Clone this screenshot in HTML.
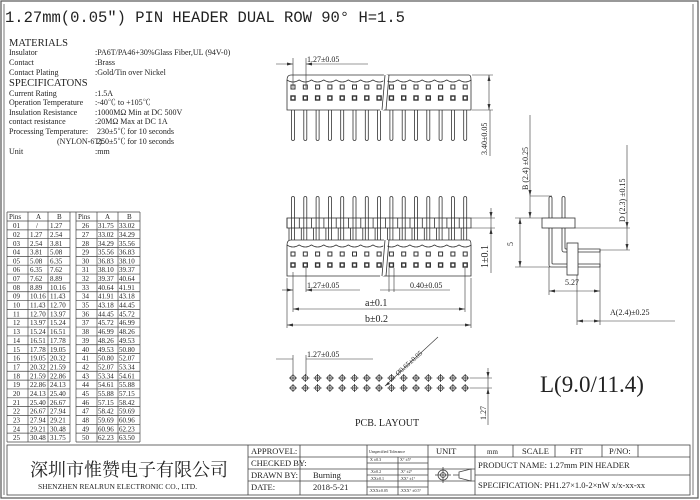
<!DOCTYPE html>
<html><head><meta charset="utf-8"><style>
html,body{margin:0;padding:0;background:#fff}
svg{display:block}
text{font-family:"Liberation Serif","Noto Serif CJK SC",serif;fill:#222}
.s{font-size:8px}
.tb{font-size:7px}
</style></head><body>
<svg id="g" width="700" height="500" viewBox="0 0 700 500" xmlns="http://www.w3.org/2000/svg" stroke="#333" fill="none" stroke-width="0.8">
<rect x="1" y="1" width="697" height="497" stroke="#555" stroke-width="1.2"/>
<line x1="4" y1="4" x2="4" y2="495" stroke="#555"/>
<line x1="693" y1="4" x2="693" y2="495" stroke="#555"/>

<g stroke="none">
<text x="5" y="22" style="font-size:15.5px;font-family:'Liberation Mono',monospace">1.27mm(0.05″) PIN HEADER DUAL ROW 90°  H=1.5</text>
<text x="9" y="46" style="font-size:10.5px">MATERIALS</text>
<text x="9" y="55" class="s">Insulator</text><text x="95" y="55" class="s">:PA6T/PA46+30%Glass Fiber,UL (94V-0)</text>
<text x="9" y="65" class="s">Contact</text><text x="95" y="65" class="s">:Brass</text>
<text x="9" y="75" class="s">Contact Plating</text><text x="95" y="75" class="s">:Gold/Tin over Nickel</text>
<text x="9" y="86" style="font-size:10.5px">SPECIFICATONS</text>
<text x="9" y="96" class="s">Current Rating</text><text x="95" y="96" class="s">:1.5A</text>
<text x="9" y="105" class="s">Operation Temperature</text><text x="95" y="105" class="s">:-40℃ to +105℃</text>
<text x="9" y="115" class="s">Insulation Resistance</text><text x="95" y="115" class="s">:1000MΩ Min at DC 500V</text>
<text x="9" y="124" class="s">contact resistance</text><text x="95" y="124" class="s">:20MΩ Max at DC 1A</text>
<text x="9" y="134" class="s">Processing Temperature:</text><text x="97" y="134" class="s">230±5℃ for 10 seconds</text>
<text x="57" y="144" class="s">(NYLON-6T):</text><text x="97" y="144" class="s">250±5℃ for 10 seconds</text>
<text x="9" y="154" class="s">Unit</text><text x="95" y="154" class="s">:mm</text>
</g>

<g id="ptab" stroke="#444" stroke-width="0.7"></g>
<g stroke="none" class="tb">
<text x="9" y="219">Pins</text><text x="36" y="219">A</text><text x="57" y="219">B</text>
<text x="78" y="219">Pins</text><text x="105" y="219">A</text><text x="127" y="219">B</text>
<text y="228"><tspan x="13">01</tspan><tspan x="36">/</tspan><tspan x="50">1.27</tspan><tspan x="82">26</tspan><tspan x="98">31.75</tspan><tspan x="119">33.02</tspan></text>
<text y="237"><tspan x="13">02</tspan><tspan x="30">1.27</tspan><tspan x="50">2.54</tspan><tspan x="82">27</tspan><tspan x="98">33.02</tspan><tspan x="119">34.29</tspan></text>
<text y="246"><tspan x="13">03</tspan><tspan x="30">2.54</tspan><tspan x="50">3.81</tspan><tspan x="82">28</tspan><tspan x="98">34.29</tspan><tspan x="119">35.56</tspan></text>
<text y="254.5"><tspan x="13">04</tspan><tspan x="30">3.81</tspan><tspan x="50">5.08</tspan><tspan x="82">29</tspan><tspan x="98">35.56</tspan><tspan x="119">36.83</tspan></text>
<text y="263.4"><tspan x="13">05</tspan><tspan x="30">5.08</tspan><tspan x="50">6.35</tspan><tspan x="82">30</tspan><tspan x="98">36.83</tspan><tspan x="119">38.10</tspan></text>
<text y="272.2"><tspan x="13">06</tspan><tspan x="30">6.35</tspan><tspan x="50">7.62</tspan><tspan x="82">31</tspan><tspan x="98">38.10</tspan><tspan x="119">39.37</tspan></text>
<text y="281"><tspan x="13">07</tspan><tspan x="30">7.62</tspan><tspan x="50">8.89</tspan><tspan x="82">32</tspan><tspan x="98">39.37</tspan><tspan x="119">40.64</tspan></text>
<text y="289.9"><tspan x="13">08</tspan><tspan x="30">8.89</tspan><tspan x="50">10.16</tspan><tspan x="82">33</tspan><tspan x="98">40.64</tspan><tspan x="119">41.91</tspan></text>
<text y="298.7"><tspan x="13">09</tspan><tspan x="30">10.16</tspan><tspan x="50">11.43</tspan><tspan x="82">34</tspan><tspan x="98">41.91</tspan><tspan x="119">43.18</tspan></text>
<text y="307.6"><tspan x="13">10</tspan><tspan x="30">11.43</tspan><tspan x="50">12.70</tspan><tspan x="82">35</tspan><tspan x="98">43.18</tspan><tspan x="119">44.45</tspan></text>
<text y="316.4"><tspan x="13">11</tspan><tspan x="30">12.70</tspan><tspan x="50">13.97</tspan><tspan x="82">36</tspan><tspan x="98">44.45</tspan><tspan x="119">45.72</tspan></text>
<text y="325.2"><tspan x="13">12</tspan><tspan x="30">13.97</tspan><tspan x="50">15.24</tspan><tspan x="82">37</tspan><tspan x="98">45.72</tspan><tspan x="119">46.99</tspan></text>
<text y="334.1"><tspan x="13">13</tspan><tspan x="30">15.24</tspan><tspan x="50">16.51</tspan><tspan x="82">38</tspan><tspan x="98">46.99</tspan><tspan x="119">48.26</tspan></text>
<text y="342.9"><tspan x="13">14</tspan><tspan x="30">16.51</tspan><tspan x="50">17.78</tspan><tspan x="82">39</tspan><tspan x="98">48.26</tspan><tspan x="119">49.53</tspan></text>
<text y="351.8"><tspan x="13">15</tspan><tspan x="30">17.78</tspan><tspan x="50">19.05</tspan><tspan x="82">40</tspan><tspan x="98">49.53</tspan><tspan x="119">50.80</tspan></text>
<text y="360.6"><tspan x="13">16</tspan><tspan x="30">19.05</tspan><tspan x="50">20.32</tspan><tspan x="82">41</tspan><tspan x="98">50.80</tspan><tspan x="119">52.07</tspan></text>
<text y="369.4"><tspan x="13">17</tspan><tspan x="30">20.32</tspan><tspan x="50">21.59</tspan><tspan x="82">42</tspan><tspan x="98">52.07</tspan><tspan x="119">53.34</tspan></text>
<text y="378.3"><tspan x="13">18</tspan><tspan x="30">21.59</tspan><tspan x="50">22.86</tspan><tspan x="82">43</tspan><tspan x="98">53.34</tspan><tspan x="119">54.61</tspan></text>
<text y="387.1"><tspan x="13">19</tspan><tspan x="30">22.86</tspan><tspan x="50">24.13</tspan><tspan x="82">44</tspan><tspan x="98">54.61</tspan><tspan x="119">55.88</tspan></text>
<text y="396"><tspan x="13">20</tspan><tspan x="30">24.13</tspan><tspan x="50">25.40</tspan><tspan x="82">45</tspan><tspan x="98">55.88</tspan><tspan x="119">57.15</tspan></text>
<text y="404.8"><tspan x="13">21</tspan><tspan x="30">25.40</tspan><tspan x="50">26.67</tspan><tspan x="82">46</tspan><tspan x="98">57.15</tspan><tspan x="119">58.42</tspan></text>
<text y="413.6"><tspan x="13">22</tspan><tspan x="30">26.67</tspan><tspan x="50">27.94</tspan><tspan x="82">47</tspan><tspan x="98">58.42</tspan><tspan x="119">59.69</tspan></text>
<text y="422.5"><tspan x="13">23</tspan><tspan x="30">27.94</tspan><tspan x="50">29.21</tspan><tspan x="82">48</tspan><tspan x="98">59.69</tspan><tspan x="119">60.96</tspan></text>
<text y="431.3"><tspan x="13">24</tspan><tspan x="30">29.21</tspan><tspan x="50">30.48</tspan><tspan x="82">49</tspan><tspan x="98">60.96</tspan><tspan x="119">62.23</tspan></text>
<text y="440.1"><tspan x="13">25</tspan><tspan x="30">30.48</tspan><tspan x="50">31.75</tspan><tspan x="82">50</tspan><tspan x="98">62.23</tspan><tspan x="119">63.50</tspan></text>
</g>

<g id="top"></g>
<g id="front"></g>
<g id="pcb"></g>

<g stroke="#333" stroke-width="0.6">
<line x1="276" y1="64" x2="293" y2="64"/><line x1="306" y1="64" x2="368" y2="64"/>
<line x1="293" y1="58" x2="293" y2="88"/><line x1="306" y1="58" x2="306" y2="88"/>
<line x1="472" y1="75" x2="493" y2="75"/><line x1="472" y1="110" x2="493" y2="110"/>
<line x1="489" y1="75" x2="489" y2="110"/>
<line x1="490" y1="110" x2="490" y2="156"/>
<line x1="282" y1="290" x2="293" y2="290"/><line x1="306" y1="290" x2="360" y2="290"/>
<line x1="293" y1="272" x2="293" y2="312"/><line x1="306" y1="268" x2="306" y2="292"/>
<line x1="389" y1="268" x2="389" y2="292"/><line x1="394" y1="268" x2="394" y2="292"/>
<line x1="380" y1="290" x2="450" y2="290"/>
<line x1="465" y1="268" x2="465" y2="312"/>
<line x1="293" y1="309" x2="465" y2="309"/>
<line x1="287" y1="278" x2="287" y2="328"/><line x1="471" y1="278" x2="471" y2="328"/>
<line x1="287" y1="325" x2="471" y2="325"/>
<line x1="471" y1="218" x2="495" y2="218"/><line x1="471" y1="228" x2="495" y2="228"/>
<line x1="491" y1="208" x2="491" y2="273"/>
<line x1="530" y1="115" x2="530" y2="218"/><line x1="530" y1="196" x2="552" y2="196"/>
<line x1="515" y1="218" x2="542" y2="218"/><line x1="515" y1="267" x2="550" y2="267"/>
<line x1="520" y1="218" x2="520" y2="267"/>
<line x1="575" y1="228" x2="630" y2="228"/><line x1="600" y1="250" x2="630" y2="250"/>
<line x1="627" y1="145" x2="627" y2="250"/>
<line x1="549" y1="267" x2="549" y2="295"/><line x1="600" y1="250" x2="600" y2="325"/>
<line x1="549" y1="291" x2="600" y2="291"/>
<line x1="577" y1="275" x2="577" y2="325"/>
<line x1="577" y1="321" x2="675" y2="321"/>
<line x1="276" y1="359" x2="293" y2="359"/><line x1="306" y1="359" x2="373" y2="359"/>
<line x1="293" y1="355" x2="293" y2="375"/><line x1="306" y1="355" x2="306" y2="375"/>
<line x1="385" y1="386" x2="438" y2="337"/>
<line x1="470" y1="378" x2="492" y2="378"/><line x1="470" y1="388" x2="492" y2="388"/>
<line x1="488" y1="368" x2="488" y2="425"/>
</g>
<g fill="#333" stroke="none">
<path d="M293 64l-6 -1.5v3z"/><path d="M306 64l6 -1.5v3z"/>
<path d="M489 75l-1.5 6h3z"/><path d="M489 110l-1.5 -6h3z"/>
<path d="M293 290l-6 -1.5v3z"/><path d="M306 290l6 -1.5v3z"/>
<path d="M293 309l6 -1.5v3z"/><path d="M465 309l-6 -1.5v3z"/>
<path d="M287 325l6 -1.5v3z"/><path d="M471 325l-6 -1.5v3z"/>
<path d="M491 218l-1.5 -6h3z"/><path d="M491 228l-1.5 6h3z"/>
<path d="M530 196l-1.5 -6h3z"/><path d="M530 218l-1.5 -6h3z"/>
<path d="M520 218l-1.5 6h3z"/><path d="M520 267l-1.5 -6h3z"/>
<path d="M627 228l-1.5 -6h3z"/><path d="M627 250l-1.5 -6h3z"/>
<path d="M549 291l6 -1.5v3z"/><path d="M600 291l-6 -1.5v3z"/>
<path d="M577 321l6 -1.5v3z"/><path d="M600 321l-6 -1.5v3z"/>
<path d="M385 386l5 -2l-2 -2z"/>
<path d="M488 378l-1.5 -6h3z"/><path d="M488 388l-1.5 6h3z"/>
</g>

<g stroke="none" style="font-size:8px">
<text x="307" y="62">1.27±0.05</text>
<text x="307" y="288">1.27±0.05</text>
<text x="410" y="288">0.40±0.05</text>
<text x="365" y="306" style="font-size:10px">a±0.1</text>
<text x="365" y="322" style="font-size:10px">b±0.2</text>
<text x="307" y="357">1.27±0.05</text>
<text transform="translate(487,155) rotate(-90)">3.40±0.05</text>
<text transform="translate(488,268) rotate(-90)" style="font-size:10px">1±0.1</text>
<text transform="translate(528,190) rotate(-90)">B (2.4) ±0.25</text>
<text transform="translate(625,222) rotate(-90)">D (2.3) ±0.15</text>
<text transform="translate(513,246) rotate(-90)">5</text>
<text x="565" y="285">5.27</text>
<text x="610" y="315">A(2.4)±0.25</text>
<text transform="translate(398,376) rotate(-42)" style="font-size:7px">Ø0.65±0.05</text>
<text transform="translate(486,420) rotate(-90)">1.27</text>
<text x="355" y="426" style="font-size:10px">PCB. LAYOUT</text>
<text x="540" y="392" style="font-size:23px">L(9.0/11.4)</text>
</g>

<g stroke="#333" stroke-width="0.8">
<rect x="542" y="218" width="33" height="10"/>
<path d="M549 218V198a1.5 1.5 0 0 1 3 0V218"/>
<path d="M562 218V198a1.5 1.5 0 0 1 3 0V218"/>
<path d="M549 228V265a2 2 0 0 0 2 2H600v-3H553a1 1 0 0 1 -1 -1V228"/>
<path d="M562 228V250a2 2 0 0 0 2 2H600v-3H566a1 1 0 0 1 -1 -1V228"/>
<rect x="567" y="243" width="11" height="32" fill="#fff"/>
</g>

<g stroke="#444" stroke-width="0.8">
<rect x="7" y="445" width="683" height="50"/>
<line x1="248" y1="445" x2="248" y2="495"/>
<line x1="300" y1="445" x2="300" y2="495"/>
<line x1="367" y1="445" x2="367" y2="495"/>
<line x1="398" y1="457" x2="398" y2="495"/>
<line x1="428" y1="445" x2="428" y2="495"/>
<line x1="475" y1="445" x2="475" y2="495"/>
<line x1="513" y1="445" x2="513" y2="457"/>
<line x1="555" y1="445" x2="555" y2="457"/>
<line x1="602" y1="445" x2="602" y2="457"/>
<line x1="638" y1="445" x2="638" y2="457"/>
<line x1="248" y1="457" x2="690" y2="457"/>
<line x1="248" y1="469" x2="475" y2="469"/>
<line x1="475" y1="475" x2="690" y2="475"/>
<line x1="248" y1="481" x2="475" y2="481"/>
<line x1="367" y1="463" x2="428" y2="463"/><line x1="367" y1="475" x2="428" y2="475"/><line x1="367" y1="487" x2="428" y2="487"/>
<circle cx="443" cy="475" r="5"/><circle cx="443" cy="475" r="2.5"/>
<line x1="435" y1="475" x2="451" y2="475"/><line x1="443" y1="467" x2="443" y2="483"/>
<path d="M453 475h6M459 472l12 -3v12l-12 -3z"/>
</g>
<g stroke="none">
<text x="30" y="476" style="font-size:18px;font-family:'Noto Serif CJK SC',serif">深圳市惟赞电子有限公司</text>
<text x="38" y="489" style="font-size:7.5px">SHENZHEN REALRUN ELECTRONIC CO., LTD.</text>
<g style="font-size:8.5px">
<text x="251" y="454">APPROVEL:</text>
<text x="251" y="466">CHECKED BY:</text>
<text x="251" y="478">DRAWN BY:</text>
<text x="251" y="490">DATE:</text>
<text x="313" y="478">Burning</text>
<text x="313" y="490">2018-5-21</text>
<text x="436" y="454">UNIT</text>
<text x="487" y="454" style="font-size:7px">mm</text>
<text x="522" y="454">SCALE</text>
<text x="570" y="454">FIT</text>
<text x="609" y="454">P/NO:</text>
<text x="478" y="468">PRODUCT NAME:  1.27mm PIN HEADER</text>
<text x="478" y="488">SPECIFICATION: PH1.27×1.0-2×nW x/x-xx-xx</text>
</g>
<g style="font-size:4px">
<text x="369" y="453">Unspecified Tolerance</text>
<text x="370" y="461">X ±0.3</text><text x="400" y="461">X° ±5°</text>
<text x="370" y="473">.X±0.2</text><text x="400" y="473">.X° ±2°</text>
<text x="370" y="480">.XX±0.1</text><text x="400" y="480">.XX° ±1°</text>
<text x="369" y="492">.XXX±0.05</text><text x="400" y="492">.XXX° ±0.5°</text>
</g>
</g>
</svg>
<script>
(function(){
var NS="http://www.w3.org/2000/svg";
function el(p,n,a){var e=document.createElementNS(NS,n);for(var k in a)e.setAttribute(k,a[k]);p.appendChild(e);return e;}
var xs=[];for(var i=0;i<15;i++)xs.push(293+i*12.3);
var pt=document.getElementById('ptab');
[7,28,48,70,76,97,118,140].forEach(function(c){el(pt,'line',{x1:c,y1:212,x2:c,y2:442});});
el(pt,'line',{x1:7,y1:212,x2:140,y2:212});
for(var r=0;r<=25;r++){var y=221+r*8.84;el(pt,'line',{x1:7,y1:y,x2:70,y2:y});el(pt,'line',{x1:76,y1:y,x2:140,y2:y});}
function body(g,y1,y2){
 el(g,'path',{d:"M287 "+(y1+5)+" Q287 "+y1+" 291 "+y1+" H469 Q471 "+y1+" 471 "+(y1+5)+" V"+y2+" H287 Z",stroke:"#333",fill:"#fff"});
 var s="";for(var i=0;i<15;i++){var x=xs[i];s+=(i==0?"M":"L")+(x-6)+" "+(y1+5)+" Q"+x+" "+(y1+9)+" "+(x+6)+" "+(y1+5);}
 el(g,'path',{d:s,stroke:"#333"});
 el(g,'path',{d:"M384 "+(y1-1)+" L388 "+y1+" L384 "+y2+" L380 "+(y2+1)+"Z",fill:"#fff",stroke:"none"});
 el(g,'line',{x1:385,y1:y1,x2:382,y2:y2,stroke:"#333"});el(g,'line',{x1:389,y1:y1,x2:386,y2:y2,stroke:"#333"});
}
var tg=document.getElementById('top');
for(var i=0;i<15;i++){el(tg,'path',{d:"M"+(xs[i]-1.5)+" 110V139a1.5 1.5 0 0 0 3 0V110",stroke:"#333"});}
body(tg,75,110);
for(var i=0;i<15;i++){el(tg,'rect',{x:xs[i]-2,y:85,width:4,height:4,stroke:"#333","stroke-width":1});el(tg,'rect',{x:xs[i]-2,y:96,width:4,height:4,stroke:"#333","stroke-width":1.4});}
var fg=document.getElementById('front');
for(var i=0;i<15;i++){el(fg,'path',{d:"M"+(xs[i]-1.5)+" 245V198a1.5 1.5 0 0 1 3 0V245",stroke:"#333"});
 el(fg,'line',{x1:xs[i]-4,y1:228,x2:xs[i]-4,y2:245,stroke:"#333"});}
el(fg,'rect',{x:287,y:218,width:184,height:10,stroke:"#333",fill:"none"});
for(var i=0;i<15;i++){el(fg,'line',{x1:xs[i]-6,y1:218,x2:xs[i]-6,y2:228,stroke:"#333"});}
body(fg,240,276);
for(var i=0;i<15;i++){el(fg,'rect',{x:xs[i]-2,y:252,width:4,height:4,stroke:"#333","stroke-width":1});el(fg,'rect',{x:xs[i]-2,y:263,width:4,height:4,stroke:"#333","stroke-width":1.4});}
var pg=document.getElementById('pcb');
[378,388].forEach(function(y){for(var i=0;i<15;i++){var x=xs[i];el(pg,'circle',{cx:x,cy:y,r:2.5,stroke:"#333"});el(pg,'line',{x1:x-4,y1:y,x2:x+4,y2:y,stroke:"#333"});el(pg,'line',{x1:x,y1:y-4,x2:x,y2:y+4,stroke:"#333"});}});
})();
</script>
</body></html>
